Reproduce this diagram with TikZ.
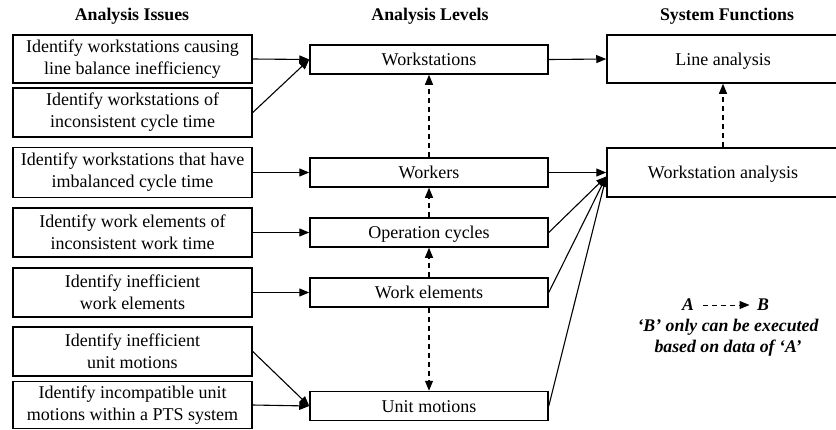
\documentclass[tikz,border=0pt]{standalone}
\usepackage{fontspec}
\setmainfont{Liberation Serif}
\usetikzlibrary{arrows.meta}
\begin{document}
\begin{tikzpicture}[x=1pt,y=-1pt,
  box/.style={draw,line width=1.5pt,align=center,inner sep=0pt,font=\fontsize{18}{22}\selectfont},
  lbox/.style={box,minimum width=239pt},
  mbox/.style={box,minimum width=238pt,minimum height=29pt,text height=16pt,text depth=4pt},
  rbox/.style={box,minimum width=232pt,minimum height=48pt,text height=16pt,text depth=4pt},
  head/.style={font=\fontsize{17.8}{20}\selectfont\bfseries},
  leg/.style={font=\fontsize{17.8}{21}\selectfont\bfseries\itshape,align=center},
  arr/.style={line width=1.1pt,-{Triangle[length=10pt,width=8pt]}},
  darr/.style={arr,dash pattern=on 5pt off 4pt}]
\useasboundingbox (0,0) rectangle (836,429);
% headings
\node[head] (h1) at (132,16) {Analysis Issues};
\node[head] (h2) at (430,16) {Analysis Levels};
\node[head] (h3) at (727,16) {System Functions};
% left boxes
\node[lbox,minimum height=48pt] (b1) at (132.5,59) {Identify workstations causing\\line balance inefficiency};
\node[lbox,minimum height=49pt] (b2) at (132.5,112.5) {Identify workstations of\\inconsistent cycle time};
\node[lbox,minimum height=50pt] (b3) at (132.5,172.5) {Identify workstations that have\\imbalanced cycle time};
\node[lbox,minimum height=49pt] (b4) at (132.5,232.5) {Identify work elements of\\inconsistent work time};
\node[lbox,minimum height=49pt] (b5) at (132.5,292.5) {Identify inefficient\\work elements};
\node[lbox,minimum height=49pt] (b6) at (132.5,351.5) {Identify inefficient\\unit motions};
\node[lbox,minimum height=47pt] (b7) at (132.5,405) {Identify incompatible unit\\motions within a PTS system};
% middle boxes
\node[mbox] (m1) at (429,59.5) {Workstations};
\node[mbox] (m2) at (429,172.5) {Workers};
\node[mbox] (m3) at (429,232.5) {Operation cycles};
\node[mbox] (m4) at (429,292.5) {Work elements};
\node[mbox] (m5) at (429,406) {Unit motions};
% right boxes
\node[rbox] (r1) at (723,59) {Line analysis};
\node[rbox,minimum height=49pt] (r2) at (723,172.5) {Workstation analysis};
% arrows left -> middle
\draw[arr] (b1.east) -- (m1.west);
\draw[arr] (b2.east) -- (m1.west);
\draw[arr] (b3.east) -- (m2.west);
\draw[arr] (b4.east) -- (m3.west);
\draw[arr] (b5.east) -- (m4.west);
\draw[arr] (b6.east) -- (m5.west);
\draw[arr] (b7.east) -- (m5.west);
% middle -> right
\draw[arr] (m1.east) -- (r1.west);
\draw[arr] (m2.east) -- (r2.west);
\coordinate (rc) at ([yshift=-4pt]r2.west);
\draw[arr] (m3.east) -- (rc);
\draw[arr] (m4.east) -- (rc);
\draw[arr] (m5.east) -- (rc);
% dashed dependencies
\draw[darr] (m2.north) -- (m1.south);
\draw[darr] (m3.north) -- (m2.south);
\draw[darr] (m4.north) -- (m3.south);
\draw[darr] (m4.south) -- (m5.north);
\draw[darr] (r2.north) -- (r1.south);
% legend
\node[leg] (la) at (688,305) {A};
\node[leg] (lb) at (763,305) {B};
\coordinate (lae) at ([xshift=6pt]la.east);
\draw[darr,line width=1pt] (lae) -- ([xshift=-4pt]lb.west);
\node[leg] (lt1) at (728,327) {‘B’ only can be executed};
\node[leg] (lt2) at (728,348) {based on data of ‘A’};
\end{tikzpicture}
\end{document}
